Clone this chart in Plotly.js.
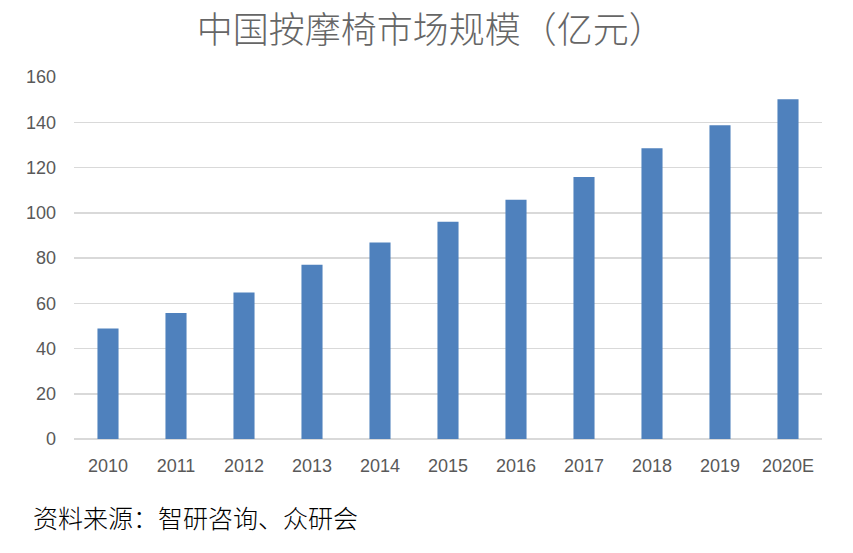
<!DOCTYPE html>
<html>
<head>
<meta charset="utf-8">
<script src="https://cdn.plot.ly/plotly-3.0.1.min.js"></script>
<style>
  html, body { margin: 0; padding: 0; background: #fff; }
  #chart { width: 853px; height: 553px; }
</style>
</head>
<body>
<div id="chart"></div>
<script>
// 中国按摩椅市场规模（亿元）
const years = ['2010', '2011', '2012', '2013', '2014', '2015', '2016', '2017', '2018', '2019', '2020E'];
const marketSize = [48.8, 55.7, 64.8, 77, 86.8, 96, 105.8, 115.8, 128.5, 138.7, 150.2];
const yTicks = [0, 20, 40, 60, 80, 100, 120, 140, 160];

const trace = {
    x: years,
    y: marketSize,
    type: 'bar',
    marker: { color: '#4f81bd' },
    hoverinfo: 'x+y'
};

const layout = {
    width: 853,
    height: 553,
    margin: { l: 74, r: 31, t: 77, b: 114 },
    title: {
        text: '中国按摩椅市场规模（亿元）',
        font: { family: 'Noto Sans CJK SC, sans-serif', size: 36, color: '#666666', weight: 300 },
        x: 0.505,
        xanchor: 'center',
        y: 0.945,
        yanchor: 'middle'
    },
    bargap: 0.69,
    xaxis: {
        type: 'category',
        showgrid: false,
        showline: false,
        ticks: '',
        ticklabelstandoff: 14,
        tickfont: { family: 'Liberation Sans, Arial, sans-serif', size: 18, color: '#595959' }
    },
    yaxis: {
        range: [0, 160],
        tickvals: yTicks,
        showgrid: true,
        gridcolor: '#d9d9d9',
        gridwidth: 1.5,
        zeroline: true,
        zerolinecolor: '#d9d9d9',
        zerolinewidth: 1.5,
        showline: false,
        ticks: '',
        ticklabelstandoff: 17,
        tickfont: { family: 'Liberation Sans, Arial, sans-serif', size: 18, color: '#595959' }
    },
    annotations: [{
        text: '资料来源：智研咨询、众研会',
        xref: 'paper',
        yref: 'paper',
        x: -0.058,
        y: -0.215,
        xanchor: 'left',
        yanchor: 'middle',
        showarrow: false,
        font: { family: 'Noto Sans CJK SC, sans-serif', size: 25, color: '#000000', weight: 300 }
    }],
    showlegend: false,
    plot_bgcolor: '#ffffff',
    paper_bgcolor: '#ffffff'
};

Plotly.newPlot('chart', [trace], layout, { displayModeBar: false, staticPlot: true });
</script>
</body>
</html>
